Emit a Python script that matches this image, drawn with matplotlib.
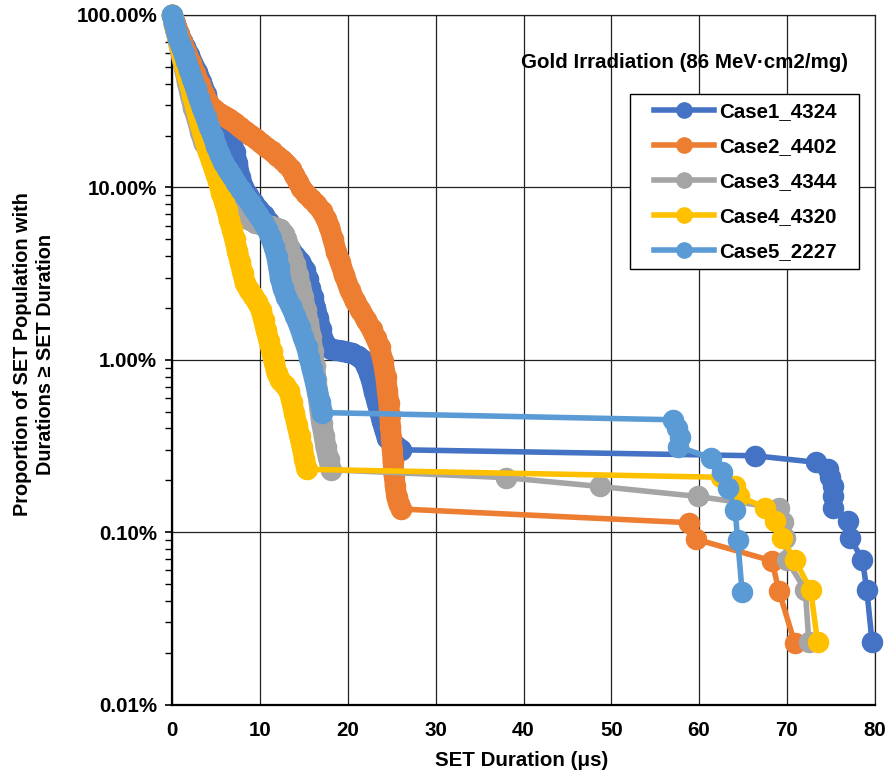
import matplotlib
matplotlib.use("Agg")
import matplotlib.pyplot as plt
from matplotlib.ticker import FixedLocator, FuncFormatter, LogLocator, NullFormatter
from matplotlib.patches import Rectangle

plt.rcParams['font.family'] = ['Liberation Sans', 'DejaVu Sans']
plt.rcParams['font.weight'] = 'bold'

# ---------------- data (SET duration in us, proportion in %) ----------------
case_names = ["Case1_4324", "Case2_4402", "Case3_4344", "Case4_4320", "Case5_2227"]
case_colors = ["#4472C4", "#ED7D31", "#A5A5A5", "#FFC000", "#5B9BD5"]

x1 = [0, 0.2, 0.45, 0.75, 1.1, 1.5, 1.9, 2.3, 2.8, 3.3, 3.8, 4.3, 4.9, 5.5, 6.2, 6.8, 7.1, 7.4,
      7.7, 8.1, 8.6, 9.2, 9.8, 10.4, 11.0, 11.6, 12.2, 12.8, 13.4, 14.0, 14.6, 15.1, 15.4, 15.7,
      16.0, 16.3, 16.6, 16.9, 17.2, 17.6, 18.1, 18.7, 19.3, 19.9, 20.5, 21.1, 21.7, 22.1, 22.4,
      22.7, 23.0, 23.3, 23.6, 23.9, 24.2, 24.5, 25.2, 26.1,
      66.4, 73.3, 74.7, 74.9, 75.2, 75.2, 75.3, 77.0, 77.2, 78.6, 79.1, 79.7]
y1 = [100, 92, 85, 78, 71, 65, 59, 53, 47, 41, 35, 29, 24, 21.5, 19.5, 18, 16, 13.8,
      11.5, 10, 9, 8.2, 7.5, 6.9, 6.3, 5.7, 5.2, 4.8, 4.4, 4.0, 3.7, 3.3, 2.95, 2.6,
      2.3, 2.0, 1.75, 1.5, 1.3, 1.2, 1.15, 1.14, 1.13, 1.11, 1.09, 1.05, 1.0, 0.92, 0.84,
      0.75, 0.65, 0.57, 0.5, 0.44, 0.39, 0.35, 0.325, 0.3006,
      0.2775, 0.2544, 0.2313, 0.2081, 0.1850, 0.1619, 0.1388, 0.1156, 0.0925, 0.0694, 0.0463, 0.0231]

x2 = [0, 0.3, 0.7, 1.1, 1.6, 2.1, 2.6, 3.1, 3.6, 4.1, 4.7, 5.3, 5.9, 6.5, 7.1, 7.7, 8.3, 8.9,
      9.5, 10.1, 10.7, 11.3, 11.9, 12.5, 13.0, 13.5, 13.9, 14.3, 14.7, 15.2, 15.8, 16.4, 17.0,
      17.5, 17.9, 18.3, 18.7, 19.1, 19.6, 20.2, 20.8, 21.4, 22.1, 22.7, 23.2, 23.6, 24.0, 24.3,
      24.5, 24.65, 24.75, 24.85, 24.95, 25.05, 25.15, 25.25, 25.4, 25.55, 25.8, 26.1,
      58.8, 59.7, 68.3, 69.1, 70.9]
y2 = [100, 90, 80, 70, 61, 53, 46, 40, 35, 31, 28.5, 27, 26, 25, 23.7, 22.3, 21.2, 20.2,
      19.2, 18.1, 17.1, 16.2, 15.3, 14.5, 13.7, 12.8, 11.8, 10.8, 9.9, 9.2, 8.6, 8.0, 7.3,
      6.6, 5.9, 5.0, 4.2, 3.7, 3.1, 2.55, 2.2, 1.95, 1.7, 1.5, 1.33, 1.19, 0.98, 0.8,
      0.66, 0.56, 0.48, 0.41, 0.35, 0.3, 0.255, 0.215, 0.185, 0.16, 0.145, 0.1363,
      0.1136, 0.0909, 0.0682, 0.0454, 0.0227]

x3 = [0, 0.25, 0.5, 0.8, 1.1, 1.4, 1.7, 2.0, 2.4, 2.8, 3.2, 3.6, 4.0, 4.6, 5.2, 5.8, 6.4, 7.0,
      7.6, 8.2, 8.8, 9.4, 10.0, 10.6, 11.2, 11.8, 12.3, 12.7, 13.0, 13.3, 13.6, 14.0, 14.3,
      14.6, 14.9, 15.2, 15.5, 15.8, 16.0, 16.2, 16.4, 16.6, 16.8, 17.0, 17.3, 17.5, 17.8, 18.1,
      38.0, 48.7, 59.9, 69.1, 69.5, 69.8, 70.0, 72.1, 72.5]
y3 = [100, 88, 77, 66, 56, 48, 41, 35, 29, 25, 21, 18, 17, 14.5, 12.5, 10.8, 9.4, 8.3,
      7.4, 6.8, 6.45, 6.25, 6.1, 6.0, 5.95, 5.85, 5.7, 5.4, 5.0, 4.5, 4.0, 3.6, 3.1,
      2.7, 2.3, 1.95, 1.65, 1.35, 1.12, 0.92, 0.76, 0.62, 0.51, 0.43, 0.36, 0.31, 0.265, 0.2302,
      0.2072, 0.1842, 0.1611, 0.1381, 0.1151, 0.0921, 0.0691, 0.0460, 0.0230]

x4 = [0, 0.25, 0.5, 0.8, 1.1, 1.4, 1.7, 2.0, 2.3, 2.6, 2.9, 3.2, 3.5, 3.8, 4.1, 4.4, 4.7, 5.0,
      5.3, 5.6, 5.9, 6.2, 6.5, 6.8, 7.1, 7.4, 7.7, 8.0, 8.3, 8.7, 9.2, 9.7, 10.1, 10.4, 10.7,
      11.0, 11.3, 11.6, 11.9, 12.3, 12.8, 13.3, 13.6, 13.9, 14.2, 14.5, 14.8, 15.05, 15.3,
      62.5, 64.1, 64.5, 67.5, 68.7, 69.4, 70.9, 72.7, 73.5]
y4 = [100, 88, 77, 67, 58, 50, 44, 39, 34, 30, 26, 23, 20.5, 18, 16, 14.5, 13, 11.8,
      10.5, 9.3, 8.3, 7.4, 6.5, 5.7, 5.0, 4.3, 3.7, 3.2, 2.8, 2.55, 2.35, 2.15, 1.95, 1.7, 1.48,
      1.29, 1.12, 0.97, 0.84, 0.76, 0.71, 0.66, 0.57, 0.49, 0.42, 0.36, 0.31, 0.265, 0.2315,
      0.2083, 0.1852, 0.1620, 0.1389, 0.1157, 0.0926, 0.0694, 0.0463, 0.0231]

x5 = [0, 0.2, 0.45, 0.7, 1.0, 1.3, 1.6, 1.95, 2.3, 2.65, 3.0, 3.4, 3.8, 4.2, 4.6, 5.0, 5.4,
      5.8, 6.3, 6.8, 7.3, 7.8, 8.3, 8.8, 9.3, 9.8, 10.3, 10.8, 11.2, 11.6, 11.9, 12.1, 12.3,
      12.6, 13.0, 13.5, 14.0, 14.5, 14.9, 15.3, 15.6, 15.9, 16.2, 16.5, 16.8, 17.1,
      57.0, 57.45, 57.8, 57.6, 61.4, 62.6, 63.3, 64.1, 64.4, 64.9]
y5 = [100, 90, 81, 73, 66, 60, 54, 48, 42.5, 37.5, 33, 29, 25.5, 22.5, 20, 17.5, 15.5,
      14, 12.7, 11.6, 10.6, 9.7, 8.9, 8.2, 7.5, 6.9, 6.3, 5.7, 5.1, 4.5, 3.95, 3.45, 3.0,
      2.6, 2.3, 2.05, 1.8, 1.55, 1.35, 1.18, 1.03, 0.89, 0.77, 0.66, 0.57, 0.494,
      0.449, 0.404, 0.359, 0.314, 0.269, 0.2245, 0.1796, 0.1347, 0.0898, 0.0449]

series_x = [x1, x2, x3, x4, x5]
series_y = [y1, y2, y3, y4, y5]

x_ticks = [0, 10, 20, 30, 40, 50, 60, 70, 80]
y_ticks = [0.01, 0.1, 1, 10, 100]

title_text = "Gold Irradiation (86 MeV\u00b7cm2/mg)"
x_label = "SET Duration (\u03bcs)"
y_label = "Proportion of SET Population with\nDurations \u2265 SET Duration"

# ---------------- figure ----------------
W, H = 887, 776
FS = 14.8
MS = 15.5
fig = plt.figure(figsize=(W / 100, H / 100), dpi=100)
ax_l, ax_r, ax_t, ax_b = 172.3, 874.7, 15.0, 704.6
ax = fig.add_axes([ax_l / W, 1 - ax_b / H, (ax_r - ax_l) / W, (ax_b - ax_t) / H])

for xs, ys, c, n in zip(series_x, series_y, case_colors, case_names):
    # the densely packed early points overlap into a solid band in the original
    k = next(i for i in range(1, len(xs)) if xs[i] - xs[i - 1] > 5)
    ax.plot(xs[:k], ys[:k], color=c, lw=MS * 0.97, solid_capstyle='round',
            solid_joinstyle='round', clip_on=False, zorder=3)
    ax.plot(xs, ys, color=c, lw=4.0, marker='o', markersize=MS,
            markerfacecolor=c, markeredgecolor=c, markeredgewidth=0,
            label=n, clip_on=False, zorder=3)

ax.set_yscale('log')
ax.set_xlim(0, 80)
ax.set_ylim(0.01, 100)
ax.xaxis.set_major_locator(FixedLocator(x_ticks))
ax.yaxis.set_major_locator(FixedLocator(y_ticks))
ax.yaxis.set_minor_locator(LogLocator(base=10, subs=range(2, 10)))
ax.yaxis.set_minor_formatter(NullFormatter())
ax.yaxis.set_major_formatter(FuncFormatter(lambda v, p: f"{v:.2f}%"))

ax.grid(True, which='major', color='#222222', lw=0.9, zorder=0)
ax.set_axisbelow(True)
for s in ['left', 'bottom']:
    ax.spines[s].set_linewidth(1.6)
    ax.spines[s].set_color('black')
for s in ['top', 'right']:
    ax.spines[s].set_linewidth(0.9)
    ax.spines[s].set_color('#222222')

ax.tick_params(axis='x', which='both', length=0, pad=12, labelsize=FS)
ax.tick_params(axis='y', which='major', length=5, width=1.2, direction='out', pad=6, labelsize=FS)
ax.tick_params(axis='y', which='minor', length=5, width=1.0, direction='out')
for lab in ax.get_xticklabels() + ax.get_yticklabels():
    lab.set_fontweight('bold')

fig.text(522 / W, 1 - 761 / H, x_label, ha='center', va='center', fontsize=FS, fontweight='bold')
fig.text(34 / W, 1 - 354 / H, y_label, ha='center', va='center', rotation=90,
         fontsize=14.3, fontweight='bold', linespacing=1.3)
fig.text(521 / W, 1 - 62 / H, title_text, ha='left', va='center', fontsize=FS, fontweight='bold')

# legend box
rect = Rectangle((630 / W, 1 - 269 / H), (859 - 630) / W, (269 - 94) / H,
                 transform=fig.transFigure, facecolor='white', edgecolor='black', lw=1.0, zorder=5)
fig.patches.append(rect)
leg = fig.legend(loc='upper left', bbox_to_anchor=(644 / W, 1 - 92 / H), frameon=False,
                 borderpad=0, handlelength=2.9, handletextpad=0.25,
                 labelspacing=0.78, prop={'weight': 'bold', 'size': FS})
for h in leg.legend_handles:
    h.set_markersize(12)
    h.set_linewidth(4.0)
leg.set_zorder(6)

fig.savefig("out.png", dpi=100)
